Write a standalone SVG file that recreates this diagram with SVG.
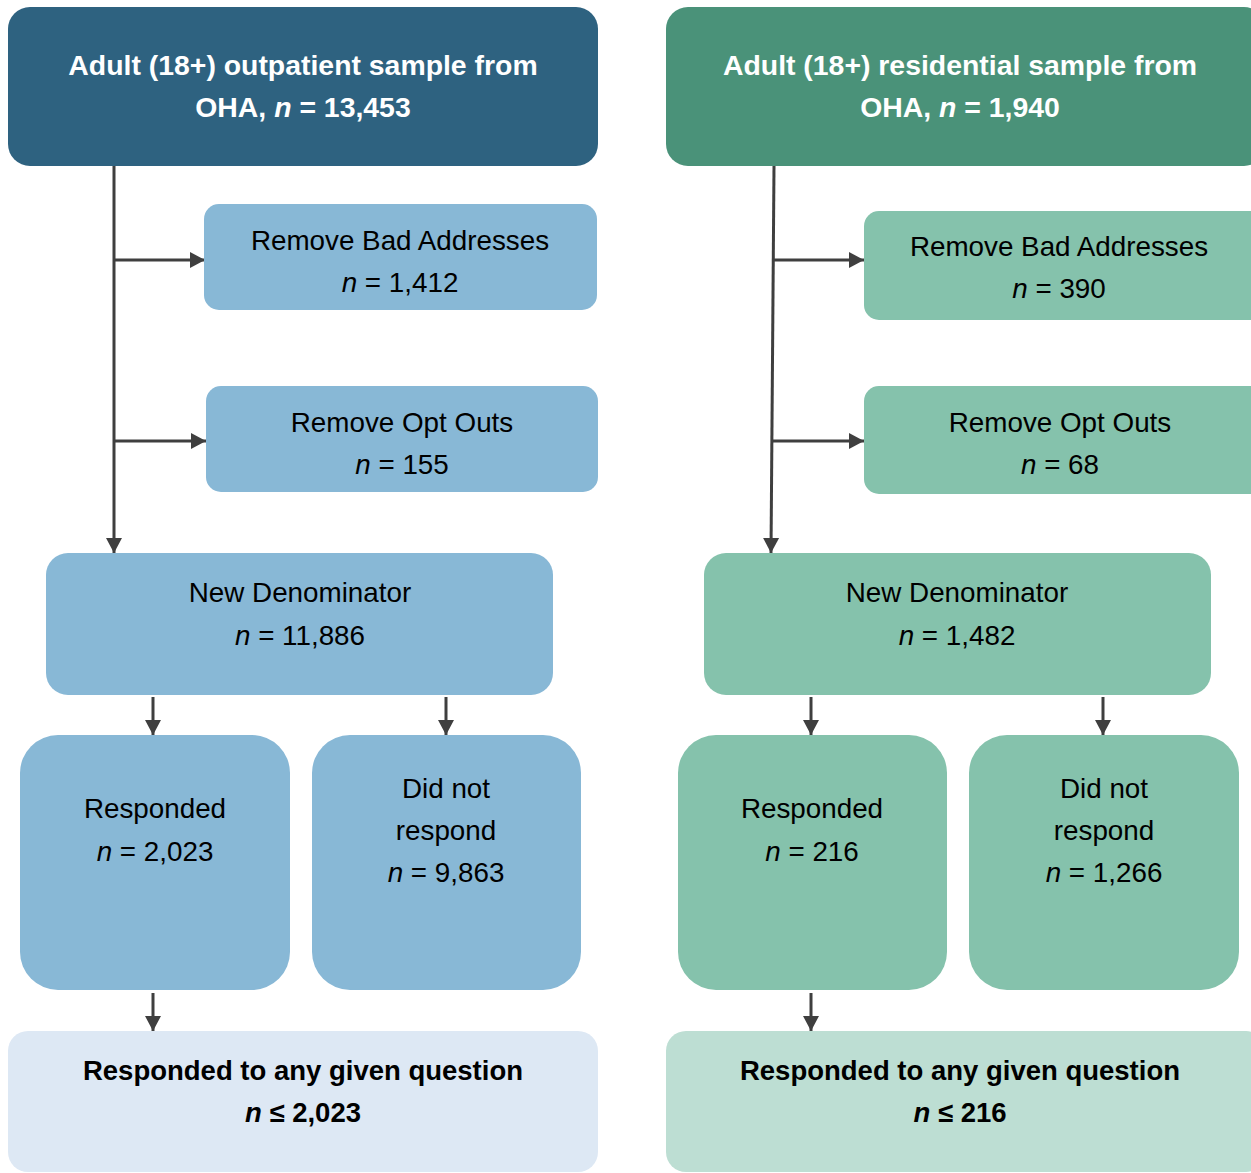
<svg xmlns="http://www.w3.org/2000/svg" width="1251" height="1173" viewBox="0 0 1251 1173">
<defs>
<style>
.t{font-family:"Liberation Sans",Arial,sans-serif;font-size:27.8px;fill:#000;text-anchor:middle}
.b{font-family:"Liberation Sans",Arial,sans-serif;font-size:27.5px;font-weight:bold;text-anchor:middle}
.h{font-size:28.4px}
.w{fill:#fff}
.k{fill:#000}
.i{font-style:italic}
.hdrB{fill:#2E6280}
.hdrG{fill:#4A9279}
.lb{fill:#88B8D6}
.lg{fill:#85C2AC}
.pb{fill:#DDE8F4}
.pg{fill:#BDDED3}
.ca{stroke:#3F3F3F;stroke-width:3;fill:none;marker-end:url(#ah)}
</style>
<marker id="ah" markerUnits="userSpaceOnUse" markerWidth="16" markerHeight="18" refX="15" refY="8" orient="auto" overflow="visible">
<path d="M0,0 L15,8 L0,16 z" fill="#3F3F3F"/>
</marker>
</defs>
<rect width="1251" height="1173" fill="#fff"/>

<g id="connectors">
<line class="ca" x1="114" y1="166" x2="114" y2="553"/>
<line class="ca" x1="114" y1="260" x2="205" y2="260"/>
<line class="ca" x1="114" y1="441" x2="206" y2="441"/>
<line class="ca" x1="153" y1="697" x2="153" y2="735"/>
<line class="ca" x1="446" y1="697" x2="446" y2="735"/>
<line class="ca" x1="153" y1="993" x2="153" y2="1031"/>
<line class="ca" x1="774" y1="166" x2="771" y2="553"/>
<line class="ca" x1="773" y1="260" x2="864" y2="260"/>
<line class="ca" x1="772" y1="441" x2="864" y2="441"/>
<line class="ca" x1="811" y1="697" x2="811" y2="735"/>
<line class="ca" x1="1103" y1="697" x2="1103" y2="735"/>
<line class="ca" x1="811" y1="993" x2="811" y2="1031"/>
</g>

<g id="outpatient-header">
<rect class="hdrB" x="8" y="7" width="590" height="159" rx="22"/>
<text class="b h w" x="303" y="75">Adult (18+) outpatient sample from</text>
<text class="b h w" x="303" y="117">OHA, <tspan class="i">n</tspan> = 13,453</text>
</g>
<g id="outpatient-bad-addresses">
<rect class="lb" x="204" y="204" width="393" height="106" rx="15"/>
<text class="t" x="400" y="250">Remove Bad Addresses</text>
<text class="t" x="400" y="292"><tspan class="i">n</tspan> = 1,412</text>
</g>
<g id="outpatient-opt-outs">
<rect class="lb" x="206" y="386" width="392" height="106" rx="15"/>
<text class="t" x="402" y="432">Remove Opt Outs</text>
<text class="t" x="402" y="474"><tspan class="i">n</tspan> = 155</text>
</g>
<g id="outpatient-new-denominator">
<rect class="lb" x="46" y="553" width="507" height="142" rx="22"/>
<text class="t" x="300" y="602">New Denominator</text>
<text class="t" x="300" y="645"><tspan class="i">n</tspan> = 11,886</text>
</g>
<g id="outpatient-responded">
<rect class="lb" x="20" y="735" width="270" height="255" rx="38"/>
<text class="t" x="155" y="818">Responded</text>
<text class="t" x="155" y="861"><tspan class="i">n</tspan> = 2,023</text>
</g>
<g id="outpatient-did-not-respond">
<rect class="lb" x="312" y="735" width="269" height="255" rx="38"/>
<text class="t" x="446" y="798">Did not</text>
<text class="t" x="446" y="840">respond</text>
<text class="t" x="446" y="882"><tspan class="i">n</tspan> = 9,863</text>
</g>
<g id="outpatient-any-question">
<rect class="pb" x="8" y="1031" width="590" height="141" rx="20"/>
<text class="b k" x="303" y="1080">Responded to any given question</text>
<text class="b k" x="303" y="1122"><tspan class="i">n</tspan> ≤ 2,023</text>
</g>

<g id="residential-header">
<rect class="hdrG" x="666" y="7" width="600" height="159" rx="22"/>
<text class="b h w" x="960" y="75">Adult (18+) residential sample from</text>
<text class="b h w" x="960" y="117">OHA, <tspan class="i">n</tspan> = 1,940</text>
</g>
<g id="residential-bad-addresses">
<rect class="lg" x="864" y="211" width="400" height="109" rx="15"/>
<text class="t" x="1059" y="256">Remove Bad Addresses</text>
<text class="t" x="1059" y="298"><tspan class="i">n</tspan> = 390</text>
</g>
<g id="residential-opt-outs">
<rect class="lg" x="864" y="386" width="400" height="108" rx="15"/>
<text class="t" x="1060" y="432">Remove Opt Outs</text>
<text class="t" x="1060" y="474"><tspan class="i">n</tspan> = 68</text>
</g>
<g id="residential-new-denominator">
<rect class="lg" x="704" y="553" width="507" height="142" rx="22"/>
<text class="t" x="957" y="602">New Denominator</text>
<text class="t" x="957" y="645"><tspan class="i">n</tspan> = 1,482</text>
</g>
<g id="residential-responded">
<rect class="lg" x="678" y="735" width="269" height="255" rx="38"/>
<text class="t" x="812" y="818">Responded</text>
<text class="t" x="812" y="861"><tspan class="i">n</tspan> = 216</text>
</g>
<g id="residential-did-not-respond">
<rect class="lg" x="969" y="735" width="270" height="255" rx="38"/>
<text class="t" x="1104" y="798">Did not</text>
<text class="t" x="1104" y="840">respond</text>
<text class="t" x="1104" y="882"><tspan class="i">n</tspan> = 1,266</text>
</g>
<g id="residential-any-question">
<rect class="pg" x="666" y="1031" width="600" height="141" rx="20"/>
<text class="b k" x="960" y="1080">Responded to any given question</text>
<text class="b k" x="960" y="1122"><tspan class="i">n</tspan> ≤ 216</text>
</g>
</svg>
